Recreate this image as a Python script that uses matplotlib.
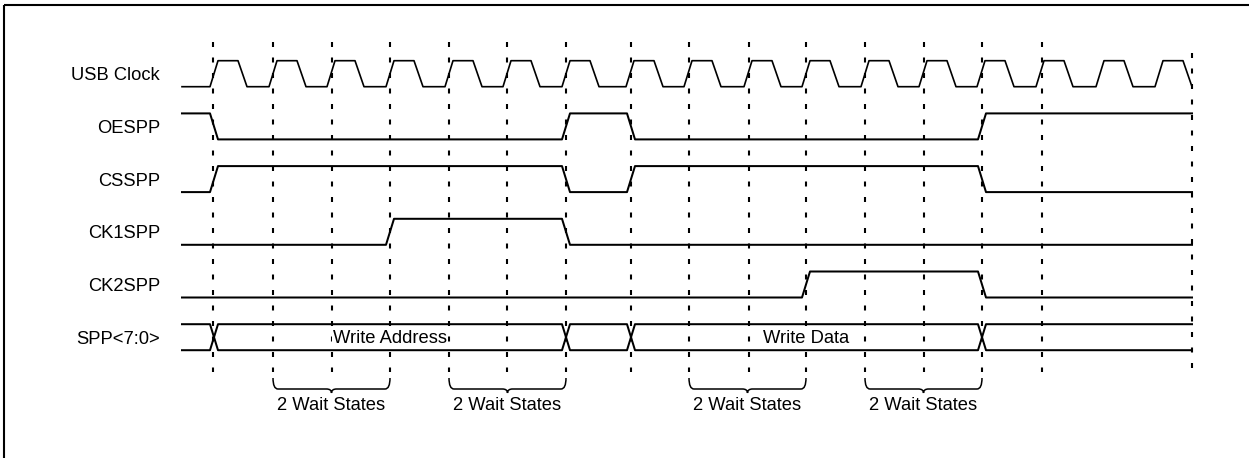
import matplotlib
matplotlib.use("Agg")
import matplotlib.pyplot as plt
from matplotlib.path import Path
from matplotlib.patches import PathPatch

plt.rcParams['font.family'] = ['Liberation Sans', 'DejaVu Sans']
plt.rcParams['lines.scale_dashes'] = False

# timing data (x in drawing units along the time axis)
signal_names = ['USB Clock', 'OESPP', 'CSSPP', 'CK1SPP', 'CK2SPP', 'SPP<7:0>']
clock_rise = [214, 273, 331, 390, 449, 507, 566, 630, 688, 748, 806, 865, 923, 981, 1040, 1100, 1159]
t_start, t_end = 182, 1192

oespp_init, oespp_edges = 1, [214, 566, 631, 982]
csspp_init, csspp_edges = 0, [214, 566, 631, 982]
ck1_init, ck1_edges = 0, [390, 566]
ck2_init, ck2_edges = 0, [806, 982]
bus_cross = [214, 566, 631, 982]
bus_labels = ['Write Address', 'Write Data']
bus_label_t = [390, 806]

marker_t = [213, 273, 332, 390, 449, 507, 566, 631, 689, 749, 806, 865, 924, 982, 1042]
wait_spans = [(273, 390), (449, 566), (689, 806), (865, 982)]
wait_label = '2 Wait States'

fig = plt.figure(figsize=(12.49, 4.58), dpi=100)
ax = fig.add_axes([0, 0, 1, 1])
ax.set_xlim(0, 1249)
ax.set_ylim(458, 0)
ax.axis('off')

top0, pitch, amp = 60.7, 52.7, 26
fs = 13.2
lw = 1.45

def row_y(i, level):
    hi = top0 + pitch * i
    return hi if level else hi + amp

# border
ax.plot([4, 1249], [5, 5], color='black', lw=1.5, solid_capstyle='butt')
ax.plot([4, 4], [5, 458], color='black', lw=1.5, solid_capstyle='butt')

# labels
for i, name in enumerate(signal_names):
    ax.text(160, row_y(i, 1) + amp / 2 + 2, name, ha='right', va='center', fontsize=fs)

# clock
xs, ys = [t_start], [row_y(0, 0)]
for t in clock_rise:
    xs += [t - 4, t + 4, t + 24, t + 33]
    ys += [row_y(0, 0), row_y(0, 1), row_y(0, 1), row_y(0, 0)]
ax.plot(xs, ys, color='black', lw=1.2)

# single-bit signals
def draw_signal(i, init, edges):
    lvl = init
    xs, ys = [t_start], [row_y(i, lvl)]
    for t in edges:
        xs += [t - 4, t + 4]
        ys += [row_y(i, lvl), row_y(i, 1 - lvl)]
        lvl = 1 - lvl
    xs.append(t_end)
    ys.append(row_y(i, lvl))
    ax.plot(xs, ys, color='black', lw=lw)

draw_signal(1, oespp_init, oespp_edges)
draw_signal(2, csspp_init, csspp_edges)
draw_signal(3, ck1_init, ck1_edges)
draw_signal(4, ck2_init, ck2_edges)

# bus
for start in (0, 1):
    lvl = start
    xs, ys = [t_start], [row_y(5, lvl)]
    for t in bus_cross:
        xs += [t - 4, t + 4]
        ys += [row_y(5, lvl), row_y(5, 1 - lvl)]
        lvl = 1 - lvl
    xs.append(t_end)
    ys.append(row_y(5, lvl))
    ax.plot(xs, ys, color='black', lw=lw)
for lab, t in zip(bus_labels, bus_label_t):
    ax.text(t, row_y(5, 1) + amp / 2 + 1, lab, ha='center', va='center', fontsize=fs,
            bbox=dict(facecolor='white', edgecolor='none', pad=0.5))

# dashed markers
dash = (0, (3.6, 7.56))
for t in marker_t:
    ax.plot([t, t], [42, 372], color='black', lw=1.5, linestyle=dash)
ax.plot([t_end, t_end], [53, 377], color='black', lw=1.5, linestyle=dash)

# braces
top, bot, tip, r = 378, 389, 393, 5
for x0, x1 in wait_spans:
    xc = (x0 + x1) / 2
    verts = [(x0, top), (x0, bot), (x0 + r, bot),
             (xc - r, bot), (xc, bot), (xc, tip),
             (xc, bot), (xc + r, bot),
             (x1 - r, bot), (x1, bot), (x1, top)]
    codes = [Path.MOVETO, Path.CURVE3, Path.CURVE3,
             Path.LINETO, Path.CURVE3, Path.CURVE3,
             Path.CURVE3, Path.CURVE3,
             Path.LINETO, Path.CURVE3, Path.CURVE3]
    ax.add_patch(PathPatch(Path(verts, codes), facecolor='none', edgecolor='black', lw=1.1))
    ax.text(xc, 406, wait_label, ha='center', va='center', fontsize=fs)

fig.savefig('out.png', dpi=100)
